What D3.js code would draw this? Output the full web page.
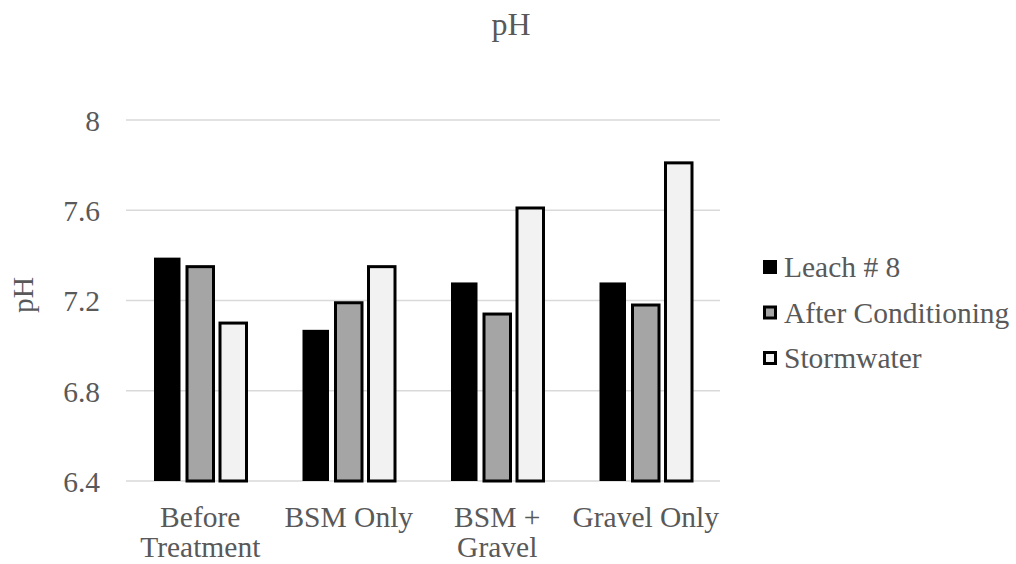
<!DOCTYPE html>
<html><head><meta charset="utf-8">
<script src="https://cdn.jsdelivr.net/npm/d3@7"></script>
<style>body{margin:0;background:#fff;}</style>
</head><body>
<svg id="c" width="1016" height="564"></svg>
<script>
const categories = [["Before","Treatment"],["BSM Only"],["BSM +","Gravel"],["Gravel Only"]];
const seriesNames = ["Leach # 8","After Conditioning","Stormwater"];
const leach = [7.39, 7.07, 7.28, 7.28];
const afterCond = [7.35, 7.19, 7.14, 7.18];
const stormwater = [7.10, 7.35, 7.61, 7.81];
const yTicks = [6.4, 6.8, 7.2, 7.6, 8];
const fills = ["#000000","#a5a5a5","#f2f2f2"];
const strokes = [null,"#000000","#000000"];
const FONT = "Liberation Serif";
const FS = "29.5px";

const svg = d3.select("#c");
const L=126, R=720, T=120, B=481;
const y = d3.scaleLinear().domain([6.4,8]).range([B,T]);
const catIdx = d3.range(categories.length);
const x0 = d3.scaleBand().domain(catIdx).range([L,R]).padding(0);
const x1 = d3.scaleBand().domain(d3.range(3)).range([-49.5,49.5]).padding(0);
const series=[leach,afterCond,stormwater];

function styleText(sel, size){ return sel.style("font-family",FONT).style("font-size",size||FS).style("fill","#595959"); }

// gridlines
svg.append("g").selectAll("line").data(yTicks).join("line")
  .attr("x1",L).attr("x2",R).attr("y1",d=>y(d)).attr("y2",d=>y(d))
  .attr("stroke","#d9d9d9").attr("stroke-width",1.5);

// y axis labels
const yAxis = d3.axisLeft(y).tickValues(yTicks).tickSize(0).tickPadding(0).tickFormat(d3.format("~g"));
const ya = svg.append("g").attr("transform",`translate(${L-26},0)`).call(yAxis);
ya.select(".domain").remove();
styleText(ya.selectAll("text")).attr("dy","0.35em");

// bars
const bw=26.5;
series.forEach((vals,si)=>{
  svg.append("g").selectAll("rect").data(vals).join("rect")
    .attr("x",(d,i)=>x0(i)+x0.bandwidth()/2+x1(si)+(x1.bandwidth()-bw)/2)
    .attr("width",bw)
    .attr("y",d=>y(d)).attr("height",d=>y(6.4)-y(d))
    .attr("fill",fills[si])
    .attr("stroke",strokes[si]||"none").attr("stroke-width",3);
});

// x labels
const xl = svg.append("g");
categories.forEach((lines,i)=>{
  const cx = x0(i)+x0.bandwidth()/2;
  const t = styleText(xl.append("text").attr("x",cx).attr("y",527).attr("text-anchor","middle"));
  lines.forEach((ln,k)=>t.append("tspan").attr("x",cx).attr("dy",k?30:0).text(ln));
});

// title
styleText(svg.append("text").attr("x",511).attr("y",35).attr("text-anchor","middle"),"32px").text("pH");
// y title
styleText(svg.append("text").attr("transform","translate(33,295) rotate(-90)").attr("text-anchor","middle")).text("pH");

// legend
const lg = svg.append("g");
seriesNames.forEach((n,i)=>{
  const cy = 267 + i*45.5;
  lg.append("rect").attr("x",i?764.5:763).attr("y",cy-(i?5.5:7)).attr("width",i?11:14).attr("height",i?11:14)
    .attr("fill",fills[i]).attr("stroke",strokes[i]||"none").attr("stroke-width",3);
  styleText(lg.append("text").attr("x",784).attr("y",cy).attr("dy","0.35em")).text(n);
});
</script>
</body></html>
